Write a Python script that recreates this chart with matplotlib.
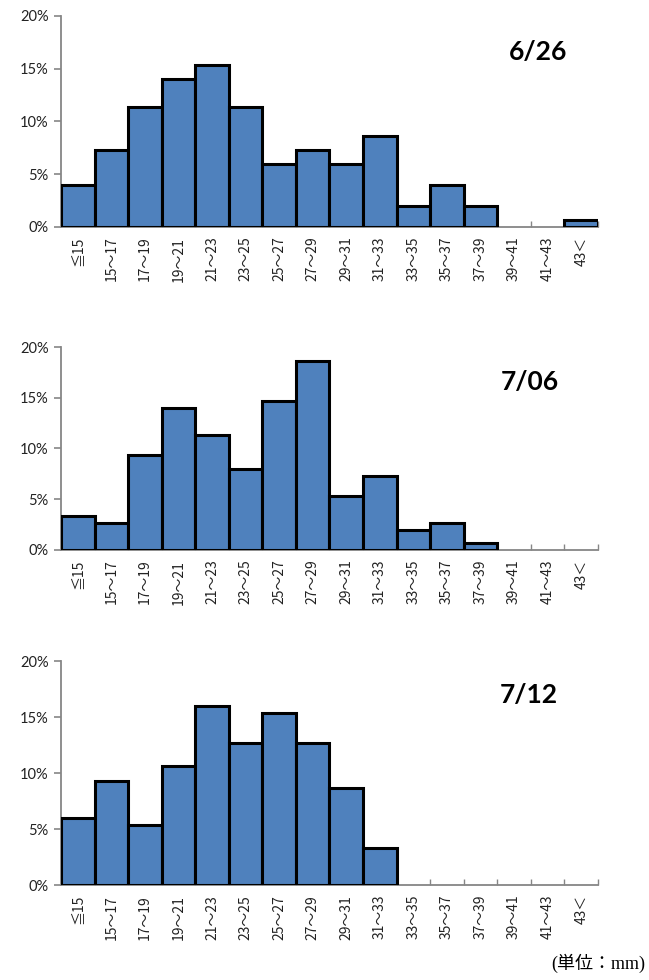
import matplotlib
matplotlib.use('Agg')
import matplotlib.pyplot as plt


# data (percent of 150 fish per date)
size_classes = ['≦15', '15～17', '17～19', '19～21', '21～23', '23～25', '25～27',
                '27～29', '29～31', '31～33', '33～35', '35～37', '37～39',
                '39～41', '41～43', '43＜']
dates = ['6/26', '7/06', '7/12']
pct_0626 = [4.0, 7.33, 11.33, 14.0, 15.33, 11.33, 6.0, 7.33, 6.0, 8.67,
            2.0, 4.0, 2.0, 0, 0, 0.67]
pct_0706 = [3.33, 2.67, 9.33, 14.0, 11.33, 8.0, 14.67, 18.67, 5.33, 7.33,
            2.0, 2.67, 0.67, 0, 0, 0]
pct_0712 = [6.0, 9.33, 5.33, 10.67, 16.0, 12.67, 15.33, 12.67, 8.67, 3.33,
            0, 0, 0, 0, 0, 0]
y_ticks = [0, 5, 10, 15, 20]

series = [pct_0626, pct_0706, pct_0712]

# axes boxes [left, bottom, width, height] and date label spot
boxes = [[0.094, 0.7684, 0.8274, 0.2153],
         [0.094, 0.4388, 0.8274, 0.2071],
         [0.094, 0.0969, 0.8274, 0.2286]]
label_pos = [(0.888, 0.829), (0.873, 0.828), (0.872, 0.848)]

axis_gray = '#868686'
bar_blue = '#4F81BD'

fig = plt.figure(figsize=(6.49, 9.80), dpi=100)

for box, vals, date, lp in zip(boxes, series, dates, label_pos):
    ax = fig.add_axes(box)
    xs = list(range(len(size_classes)))
    # skip zero bars so no edge lines are drawn along the axis
    bx = [x for x, v in zip(xs, vals) if v > 0]
    bv = [v for v in vals if v > 0]
    ax.bar(bx, bv, width=1.0, color=bar_blue, edgecolor='black',
           linewidth=2.2, zorder=3)
    ax.set_xlim(-0.5, len(size_classes) - 0.5)
    ax.set_ylim(0, 20)

    ax.spines['top'].set_visible(False)
    ax.spines['right'].set_visible(False)
    for s in ['left', 'bottom']:
        ax.spines[s].set_color(axis_gray)
        ax.spines[s].set_linewidth(1.3)

    ax.set_yticks(y_ticks)
    ax.set_yticklabels([f'{t}%' for t in y_ticks], family=['Lato', 'DejaVu Sans'],
                       fontsize=10.5, color='#222222')
    ax.tick_params(axis='y', direction='out', length=5, width=1.2,
                   color=axis_gray, pad=4)

    ax.set_xticks(xs)
    ax.set_xticklabels(size_classes, rotation=90, fontsize=10,
                       family=['Noto Sans CJK JP', 'DejaVu Sans'],
                       va='top', ha='center', color='#222222')
    ax.tick_params(axis='x', which='major', length=0, pad=7)
    ax.set_xticks([x + 0.5 for x in xs], minor=True)
    ax.tick_params(axis='x', which='minor', direction='in', length=4,
                   width=1.0, color=axis_gray)

    ax.text(lp[0], lp[1], date, transform=ax.transAxes, ha='center',
            va='center', fontsize=19, fontweight='bold',
            family=['Lato', 'DejaVu Sans'])

fig.text(0.994, 0.017, '(単位：mm)', ha='right', va='center', fontsize=13,
         family=['Liberation Serif', 'Noto Sans CJK JP'])

fig.savefig('out.png', dpi=100)
